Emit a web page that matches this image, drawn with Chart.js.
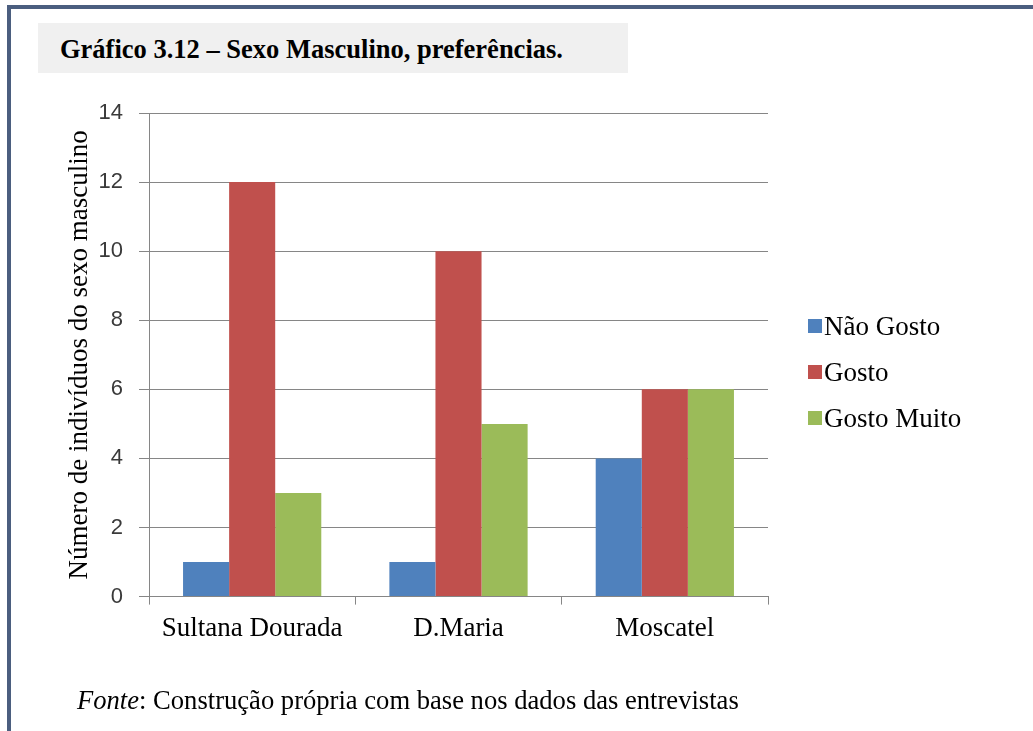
<!DOCTYPE html>
<html>
<head>
<meta charset="utf-8">
<script src="https://cdn.jsdelivr.net/npm/chart.js@4.4.0/dist/chart.umd.min.js"></script>
<style>
body{margin:0;width:1033px;height:731px;background:#fff;position:relative;overflow:hidden;font-family:"Liberation Serif","Times New Roman",serif;}
#frame{position:absolute;left:7px;top:5px;width:1030px;height:730px;border-top:4px solid #4b5e7f;border-left:4px solid #4b5e7f;}
#titlebox{position:absolute;left:38px;top:23px;width:590px;height:50px;background:#f0f0f0;}
#titlebox span{position:absolute;left:22px;top:11px;font-weight:bold;font-size:26.5px;white-space:nowrap;}
#wrap{position:absolute;left:0;top:0;width:1033px;height:731px;}
#legend{position:absolute;left:808px;top:303px;}
.item{height:46px;font-size:27px;display:flex;align-items:center;white-space:nowrap;}
.sw{width:14px;height:14px;margin-right:2px;}
#fonte{position:absolute;left:77px;top:685px;font-size:26.6px;white-space:nowrap;}
</style>
</head>
<body>
<div id="frame"></div>
<div id="titlebox"><span>Gráfico 3.12 – Sexo Masculino, preferências.</span></div>
<div id="wrap"><canvas id="chart" width="1033" height="731"></canvas></div>
<div id="legend"></div>
<div id="fonte"><i>Fonte</i>: Construção própria com base nos dados das entrevistas</div>
<script>
// dados do gráfico
var categorias = ['Sultana Dourada', 'D.Maria', 'Moscatel'];
var seriesNomes = ['Não Gosto', 'Gosto', 'Gosto Muito'];
var naoGosto = [1, 1, 4];
var gosto = [12, 10, 6];
var gostoMuito = [3, 5, 6];
var cores = ['#4f81bd', '#c0504d', '#9bbb59'];
var yMin = 0, yMax = 14, yPasso = 2;

var valores = [naoGosto, gosto, gostoMuito];
var datasets = [];
for (var i = 0; i < seriesNomes.length; i++) {
  datasets.push({
    label: seriesNomes[i],
    data: valores[i],
    backgroundColor: cores[i],
    borderWidth: 0,
    categoryPercentage: 0.67,
    barPercentage: 1
  });
}

var grade = '#868686';

var chart = new Chart(document.getElementById('chart'), {
  type: 'bar',
  data: { labels: categorias, datasets: datasets },
  options: {
    responsive: false,
    animation: false,
    devicePixelRatio: 1,
    layout: { padding: { left: 60, top: 113, right: 265, bottom: 78 } },
    plugins: { legend: { display: false }, tooltip: { enabled: false } },
    scales: {
      x: {
        grid: { offset: true, drawOnChartArea: false, color: grade, tickLength: 8 },
        border: { color: grade },
        ticks: { padding: 8, color: '#000', font: { family: '"Liberation Serif"', size: 27 } }
      },
      y: {
        min: yMin, max: yMax,
        grid: { color: grade, tickLength: 10 },
        border: { color: grade },
        ticks: { stepSize: yPasso, padding: 16, color: '#3a3a3a', font: { family: '"Liberation Sans"', size: 22 } },
        title: {
          display: true,
          text: 'Número de indivíduos do sexo masculino',
          color: '#000',
          font: { family: '"Liberation Serif"', size: 27 }
        },
        afterFit: function(scale) { scale.width = 89; }
      }
    }
  }
});

// legenda em html
var leg = document.getElementById('legend');
chart.data.datasets.forEach(function(ds){
  var d = document.createElement('div');
  d.className = 'item';
  d.innerHTML = '<span class="sw" style="background:' + ds.backgroundColor + '"></span>' + ds.label;
  leg.appendChild(d);
});
</script>
</body>
</html>
